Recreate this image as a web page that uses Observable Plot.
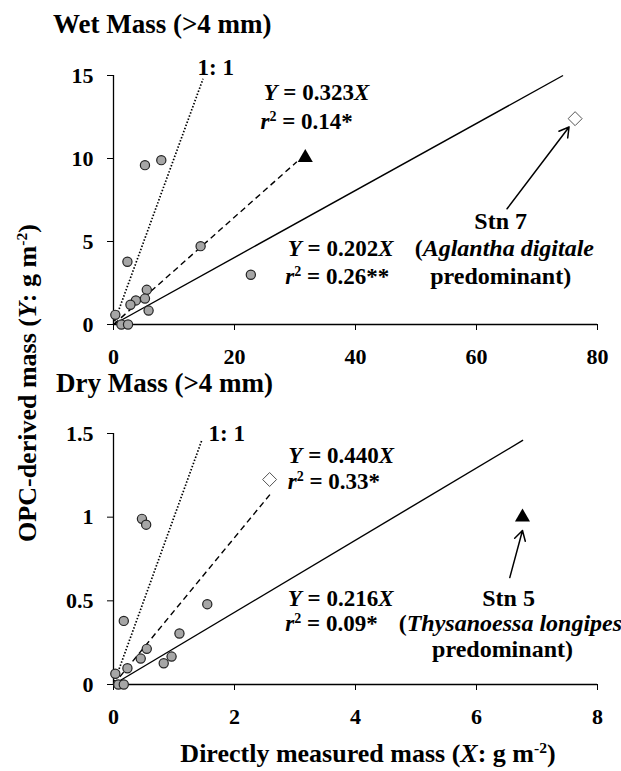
<!DOCTYPE html>
<html><head><meta charset="utf-8">
<script src="https://cdn.jsdelivr.net/npm/d3@7"></script>
<script src="https://cdn.jsdelivr.net/npm/@observablehq/plot@0.6"></script>
<style>
body{margin:0;background:#fff;}
#c{position:relative;width:621px;height:771px;overflow:hidden;font-family:Liberation Serif,Times New Roman,serif;font-weight:bold;color:#000;background:#fff;}
.t{position:absolute;white-space:nowrap;line-height:1;}
.p{position:absolute;left:0;}
.p text{font-family:Liberation Serif,Times New Roman,serif;}
sup{font-size:0.6em;vertical-align:0.55em;line-height:0;}
</style></head><body><div id="c"></div>
<script>
// ---------- Wet mass panel ----------
const wetTickX = [0, 20, 40, 60, 80];
const wetTickY = [0, 5, 10, 15];
const wetCircleX = [5.2, 7.9, 14.4, 22.7, 2.3, 5.5, 5.2, 3.7, 2.8, 5.8, 0.3, 1.3, 2.4];
const wetCircleY = [9.6, 9.9, 4.72, 3.0, 3.78, 2.09, 1.56, 1.45, 1.19, 0.84, 0.58, 0, 0];
const wetTriangle = [31.7, 10.05];
const wetDiamond = [76.3, 12.4];
const wetLineKind = ["dotted", "dashed", "solid"];
const wetLineEndX = [14.8, 30.3, 74.3];
const wetLineEndY = [14.8, 9.8, 15.0];
const wetLabels = ["1: 1", "_Y_ = 0.323_X_", "_r_^2^ = 0.14*", "_Y_ = 0.202_X_", "_r_^2^ = 0.26**", "Stn 7", "(_Aglantha digitale_", "predominant)"];
const wetLabelX = [13.9, 24.8, 24.3, 28.8, 28.4, 64.0, 64.6, 64.0];
const wetLabelY = [15.06, 13.5, 11.8, 4.1, 2.41, 5.78, 4.1, 2.41];
const wetLabelAnchor = ["start", "start", "start", "start", "start", "middle", "middle", "middle"];
const wetArrowFrom = [65.05, 6.97];
const wetArrowTo = [75.3, 11.9];

// ---------- Dry mass panel ----------
const dryTickX = [0, 2, 4, 6, 8];
const dryTickY = [0, 0.5, 1, 1.5];
const dryCircleX = [0.47, 0.54, 0.17, 1.55, 1.09, 0.55, 0.45, 0.96, 0.83, 0.23, 0.03, 0.08, 0.17];
const dryCircleY = [0.99, 0.955, 0.38, 0.48, 0.305, 0.213, 0.155, 0.167, 0.127, 0.097, 0.064, 0, 0];
const dryTriangle = [6.76, 1.0];
const dryDiamond = [2.58, 1.225];
const dryLineKind = ["dotted", "dashed", "solid"];
const dryLineEndX = [1.46, 2.62, 6.77];
const dryLineEndY = [1.46, 1.15, 1.46];
const dryLabels = ["1: 1", "_Y_ = 0.440_X_", "_r_^2^ = 0.33*", "_Y_ = 0.216_X_", "_r_^2^ = 0.09*", "Stn 5", "(_Thysanoessa longipes_", "predominant)"];
const dryLabelX = [1.57, 2.89, 2.88, 2.88, 2.84, 6.53, 6.56, 6.43];
const dryLabelY = [1.458, 1.325, 1.17, 0.472, 0.322, 0.472, 0.322, 0.167];
const dryLabelAnchor = ["start", "start", "start", "start", "start", "middle", "middle", "middle"];
const dryArrowFrom = [6.55, 0.639];
const dryArrowTo = [6.76, 0.92];

const FONT = "Liberation Serif, Times New Roman, serif";
const dashes = {dotted: "1.5,1.8", dashed: "6,4", solid: "none"};

function richify(svg) {
  const NS = "http://www.w3.org/2000/svg";
  svg.querySelectorAll("text").forEach(t => {
    const s = t.textContent;
    if (!/[_^]/.test(s)) return;
    while (t.firstChild) t.removeChild(t.firstChild);
    let italic = false, sup = false, afterSup = false, buf = "";
    const flush = () => {
      if (!buf) return;
      const ts = document.createElementNS(NS, "tspan");
      if (italic) ts.setAttribute("font-style", "italic");
      if (sup) { ts.setAttribute("font-size", "14"); ts.setAttribute("dy", "-8"); }
      else if (afterSup) { ts.setAttribute("dy", "8"); afterSup = false; }
      ts.textContent = buf;
      t.appendChild(ts);
      buf = "";
    };
    for (const ch of s) {
      if (ch === "_") { flush(); italic = !italic; }
      else if (ch === "^") { flush(); if (sup) afterSup = true; sup = !sup; }
      else buf += ch;
    }
    flush();
  });
}

function panel(cfg) {
  const circles = cfg.cx.map((x, i) => ({x, y: cfg.cy[i]}));
  const lines = cfg.lineX.map((x, i) => ({x1: 0, y1: 0, x2: x, y2: cfg.lineY[i], kind: cfg.kind[i]}));
  const labels = cfg.labels.map((t, i) => ({text: t, x: cfg.labelX[i], y: cfg.labelY[i], anchor: cfg.anchor[i]}));
  const arrow = [{x1: cfg.arrowFrom[0], y1: cfg.arrowFrom[1], x2: cfg.arrowTo[0], y2: cfg.arrowTo[1]}];
  const diamondSym = d3.symbolDiamond2 || "diamond";
  const svg = Plot.plot({
    width: 621,
    height: 370,
    marginLeft: 113,
    marginRight: 24,
    marginTop: cfg.marginTop,
    marginBottom: 46,
    style: {fontFamily: FONT, fontSize: "22px", fontWeight: "bold", background: "transparent", overflow: "visible", color: "black"},
    x: {domain: cfg.xDomain, ticks: cfg.tickX, tickSize: 6, tickPadding: 18, tickFormat: d => String(d), label: null},
    y: {domain: cfg.yDomain, ticks: cfg.tickY, tickSize: 6, tickPadding: 14, tickFormat: d => String(d), label: null},
    marks: [
      Plot.ruleX([0], {stroke: "black", strokeWidth: 1.3}),
      Plot.ruleY([0], {stroke: "black", strokeWidth: 1.3}),
      ...["dotted", "dashed", "solid"].map(k => Plot.link(lines.filter(d => d.kind === k), {
        x1: "x1", y1: "y1", x2: "x2", y2: "y2", stroke: "black",
        strokeWidth: k === "dotted" ? 1.7 : 1.4, strokeDasharray: dashes[k]
      })),
      Plot.dot(circles, {x: "x", y: "y", r: 4.6, fill: "#a6a6a6", stroke: "#222", strokeWidth: 1.2}),
      Plot.dot([{x: cfg.tri[0], y: cfg.tri[1]}], {x: "x", y: "y", symbol: "triangle", r: 5.6, fill: "black", stroke: "none"}),
      Plot.dot([{x: cfg.dia[0], y: cfg.dia[1]}], {x: "x", y: "y", symbol: diamondSym, r: 6.3, fill: "white", stroke: "#555", strokeWidth: 1}),
      Plot.arrow(arrow, {x1: "x1", y1: "y1", x2: "x2", y2: "y2", bend: 0, stroke: "black", strokeWidth: 1.5, headLength: 11}),
      Plot.text(labels.filter(d => d.anchor === "start"), {x: "x", y: "y", text: "text", textAnchor: "start", lineAnchor: "bottom", fontSize: 23, fontWeight: "bold", fontFamily: FONT, fill: "black"}),
      Plot.text(labels.filter(d => d.anchor === "middle"), {x: "x", y: "y", text: "text", textAnchor: "middle", lineAnchor: "bottom", fontSize: 24, fontWeight: "bold", fontFamily: FONT, fill: "black"})
    ]
  });
  svg.setAttribute("font-family", FONT);
  svg.style.fontFamily = FONT;
  richify(svg);
  svg.classList.add("p");
  svg.style.top = cfg.top + "px";
  return svg;
}

const c = document.getElementById("c");
c.appendChild(panel({
  top: 0, marginTop: 75, xDomain: [0, 80], yDomain: [0, 15], tickX: wetTickX, tickY: wetTickY,
  cx: wetCircleX, cy: wetCircleY, tri: wetTriangle, dia: wetDiamond,
  kind: wetLineKind, lineX: wetLineEndX, lineY: wetLineEndY,
  labels: wetLabels, labelX: wetLabelX, labelY: wetLabelY, anchor: wetLabelAnchor,
  arrowFrom: wetArrowFrom, arrowTo: wetArrowTo
}));
c.appendChild(panel({
  top: 360, marginTop: 73, xDomain: [0, 8], yDomain: [0, 1.5], tickX: dryTickX, tickY: dryTickY,
  cx: dryCircleX, cy: dryCircleY, tri: dryTriangle, dia: dryDiamond,
  kind: dryLineKind, lineX: dryLineEndX, lineY: dryLineEndY,
  labels: dryLabels, labelX: dryLabelX, labelY: dryLabelY, anchor: dryLabelAnchor,
  arrowFrom: dryArrowFrom, arrowTo: dryArrowTo
}));

function addText(html, css) {
  const d = document.createElement("div");
  d.className = "t";
  d.innerHTML = html;
  Object.assign(d.style, css);
  c.appendChild(d);
  return d;
}
addText("Wet Mass (&gt;4 mm)", {left: "53px", top: "11px", fontSize: "27px"});
addText("Dry Mass (&gt;4 mm)", {left: "56px", top: "370px", fontSize: "27px"});
addText("OPC-derived mass (<i>Y</i>: g m<sup>-2</sup>)", {left: "28px", top: "383px", fontSize: "26px", transform: "translate(-50%,-50%) rotate(-90deg)"});
addText("Directly measured mass (<i>X</i>: g m<sup>-2</sup>)", {left: "368px", top: "741px", fontSize: "26px", transform: "translateX(-50%)"});
</script>
</body></html>
